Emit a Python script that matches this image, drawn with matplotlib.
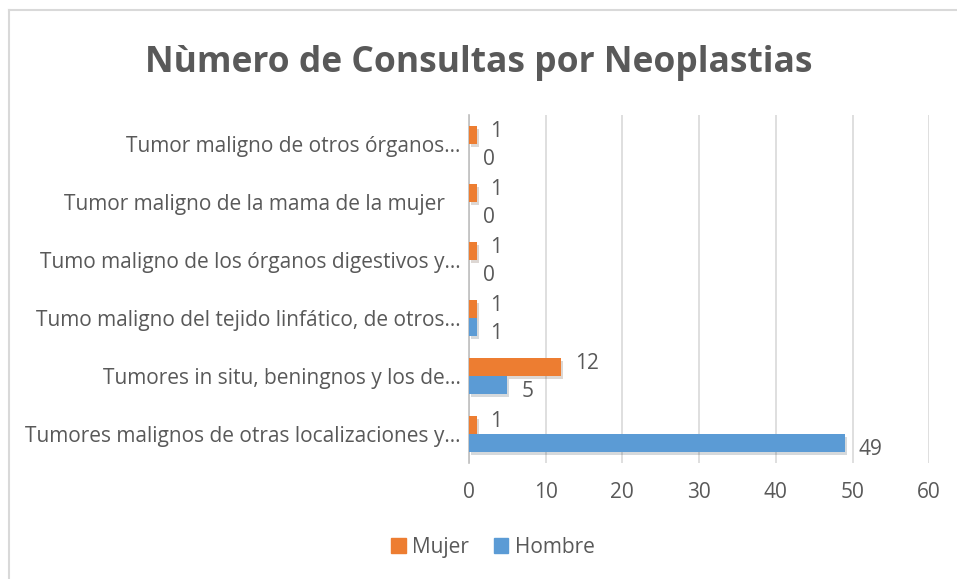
import matplotlib.pyplot as plt
import matplotlib.patheffects as pe
from matplotlib.lines import Line2D
from matplotlib.patches import Patch
import numpy as np

plt.rcParams['font.family'] = ['Open Sans', 'DejaVu Sans']

# categories listed bottom to top, as drawn
categorias = [
    "Tumores malignos de otras localizaciones y…",
    "Tumores in situ, beningnos y los de…",
    "Tumo maligno del tejido linfático, de otros…",
    "Tumo maligno de los órganos digestivos y…",
    "Tumor maligno de la mama de la mujer   ",
    "Tumor maligno de otros órganos…",
]
mujer = [1, 12, 1, 1, 1, 1]
hombre = [49, 5, 1, 0, 0, 0]
xticks = [0, 10, 20, 30, 40, 50, 60]

gris = '#595959'
naranja = '#ED7D31'
azul = '#5B9BD5'
fs = 15

fig = plt.figure(figsize=(9.57, 5.79), dpi=100)
ax = fig.add_axes([0.490, 0.2003, 0.481, 0.601])

y = np.arange(len(categorias))
h = 0.31
sombra = [pe.SimplePatchShadow(offset=(1.5, -2), alpha=0.18), pe.Normal()]

b_muj = ax.barh(y + h / 2, mujer, height=h, color=naranja, zorder=3)
b_hom = ax.barh(y - h / 2, hombre, height=h, color=azul, zorder=3)
for b in list(b_muj) + list(b_hom):
    b.set_path_effects(sombra)

# value labels just past the bar ends, nudged apart so the pairs do not collide
for yi, v in zip(y + h / 2, mujer):
    ax.annotate(str(v), (v, yi), xytext=(10, 2.5), textcoords='offset points',
                va='center', ha='left', fontsize=fs, color=gris)
for yi, v in zip(y - h / 2, hombre):
    ax.annotate(str(v), (v, yi), xytext=(10, -5), textcoords='offset points',
                va='center', ha='left', fontsize=fs, color=gris)

ax.set_xlim(0, 60)
ax.set_ylim(-0.5, len(categorias) - 0.5)
ax.set_xticks(xticks)
ax.set_yticks(y)
ax.set_yticklabels(categorias)
ax.tick_params(axis='both', length=0, labelsize=fs, labelcolor=gris)
ax.tick_params(axis='x', pad=14)
ax.tick_params(axis='y', pad=6)
ax.grid(axis='x', color='#D9D9D9', linewidth=1.2, zorder=0)
for s in ['top', 'right', 'bottom']:
    ax.spines[s].set_visible(False)
ax.spines['left'].set_color('#BFBFBF')
ax.spines['left'].set_linewidth(1.2)

fig.text(0.5, 0.892, 'Nùmero de Consultas por Neoplastias', ha='center', va='center',
         fontsize=25.5, fontweight='bold', color=gris)

handles = [Patch(color=naranja, label='Mujer'), Patch(color=azul, label='Hombre')]
ax.legend(handles=handles, loc='center', bbox_to_anchor=(0.515, 0.055),
          bbox_transform=fig.transFigure, ncol=2, frameon=False, fontsize=fs,
          labelcolor=gris, handlelength=0.7, handleheight=0.7, handletextpad=0.3,
          columnspacing=1.2)

# chart area border (left and top edges visible)
fig.add_artist(Line2D([8.5 / 957, 8.5 / 957], [0, 1 - 9.5 / 579], transform=fig.transFigure,
                      color='#D9D9D9', linewidth=1.5))
fig.add_artist(Line2D([8.5 / 957, 1], [1 - 9.5 / 579, 1 - 9.5 / 579], transform=fig.transFigure,
                      color='#D9D9D9', linewidth=1.5))

fig.savefig('out.png', dpi=100)
